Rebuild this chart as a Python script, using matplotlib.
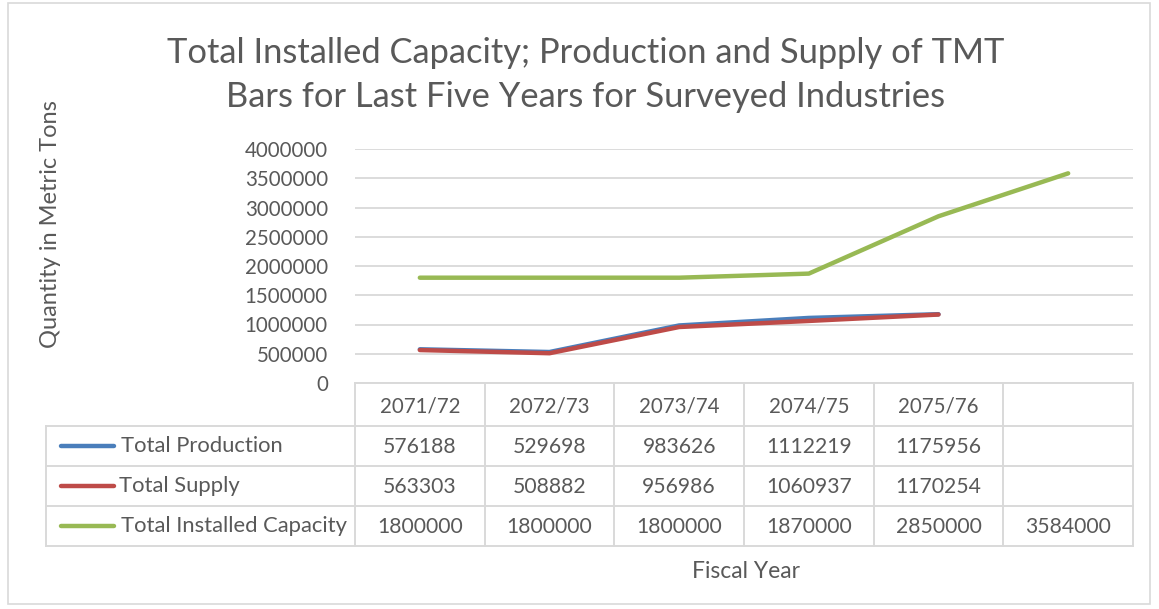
import numpy as np
import matplotlib.pyplot as plt
from matplotlib.patches import Rectangle

plt.rcParams['font.family'] = ['Lato', 'DejaVu Sans']

# ==========================================
# DATA
# ==========================================
years = ["2071/72", "2072/73", "2073/74", "2074/75", "2075/76", ""]
production = [576188, 529698, 983626, 1112219, 1175956, None]
supply = [563303, 508882, 956986, 1060937, 1170254, None]
capacity = [1800000, 1800000, 1800000, 1870000, 2850000, 3584000]

series_names = ["Total Production", "Total Supply", "Total Installed Capacity"]
series_values = [production, supply, capacity]
series_colors = ["#4a7ebb", "#be4b48", "#98b954"]

text_col = "#595959"
grid_col = "#d9d9d9"

# ==========================================
# FIGURE (pixel layout helpers)
# ==========================================
W, H = 1159, 609
fig = plt.figure(figsize=(W / 100, H / 100), dpi=100)


def fx(px):
    return px / W


def fy(py):
    return 1 - py / H


# chart area border
fig.patches.append(Rectangle((fx(8), fy(604)), fx(1150) - fx(8), fy(3) - fy(604),
                             transform=fig.transFigure, fill=False,
                             edgecolor=grid_col, linewidth=1.2))

plot_l, plot_r, plot_t, plot_b = 355, 1133, 149, 383
ax = fig.add_axes([fx(plot_l), fy(plot_b), fx(plot_r) - fx(plot_l), fy(plot_t) - fy(plot_b)])

x = np.arange(len(years))
for name, vals, col in zip(series_names, series_values, series_colors):
    y = np.array([np.nan if v is None else v for v in vals], dtype=float)
    ax.plot(x, y, color=col, linewidth=3.2, solid_capstyle="round", label=name)

ax.set_xlim(-0.5, len(years) - 0.5)
ax.set_ylim(0, 4000000)
ax.set_yticks(np.arange(0, 4000001, 500000))
ax.set_yticklabels([str(v) for v in range(0, 4000001, 500000)])
ax.tick_params(axis="y", length=0, labelsize=14.8, labelcolor=text_col, pad=19.5)
ax.set_xticks([])
ax.grid(axis="y", color=grid_col, linewidth=1.3)
ax.set_axisbelow(True)
for s in ax.spines.values():
    s.set_visible(False)

# ==========================================
# DATA TABLE (drawn under the axis)
# ==========================================
tab_l, row_edges = 46, [383, 426, 466, 506, 546]
tax = fig.add_axes([0, 0, 1, 1])
tax.set_xlim(0, W)
tax.set_ylim(H, 0)
tax.axis("off")

col_w = (plot_r - plot_l) / len(years)
col_edges = [plot_l + i * col_w for i in range(len(years) + 1)]
lw = 1.4

# header row (no legend cell)
tax.plot([plot_l, plot_r], [row_edges[0], row_edges[0]], color=grid_col, lw=lw)
# rows
for r in row_edges[1:]:
    tax.plot([tab_l, plot_r], [r, r], color=grid_col, lw=lw)
for c in col_edges:
    tax.plot([c, c], [row_edges[0], row_edges[-1]], color=grid_col, lw=lw)
tax.plot([tab_l, tab_l], [row_edges[1], row_edges[-1]], color=grid_col, lw=lw)

# header labels
for i, yr in enumerate(years):
    tax.text(col_edges[i] + col_w / 2, (row_edges[0] + row_edges[1]) / 2 + 2, yr,
             ha="center", va="center", fontsize=14.8, color=text_col)

for j, (name, vals, col) in enumerate(zip(series_names, series_values, series_colors)):
    yc = (row_edges[j + 1] + row_edges[j + 2]) / 2
    tax.plot([61, 114], [yc, yc], color=col, lw=3.2, solid_capstyle="round")
    tax.text(121 if j != 1 else 119, yc, name, ha="left", va="center",
             fontsize=15.8, color=text_col)
    for i, v in enumerate(vals):
        if v is None:
            continue
        tax.text(col_edges[i] + col_w / 2, yc + 1, str(v),
                 ha="center", va="center", fontsize=15.2, color=text_col)

# ==========================================
# TITLES
# ==========================================
fig.text(fx(586), fy(53), "Total Installed Capacity; Production and Supply of TMT",
         ha="center", va="center", fontsize=24.8, color=text_col)
fig.text(fx(586), fy(97), "Bars for Last Five Years for Surveyed Industries",
         ha="center", va="center", fontsize=24.8, color=text_col)
fig.text(fx(51), fy(224), "Quantity in Metric Tons", rotation=90,
         ha="center", va="center", fontsize=17, color=text_col)
fig.text(fx(746), fy(571), "Fiscal Year", ha="center", va="center",
         fontsize=16.5, color=text_col)

plt.savefig("out.png", dpi=100)
